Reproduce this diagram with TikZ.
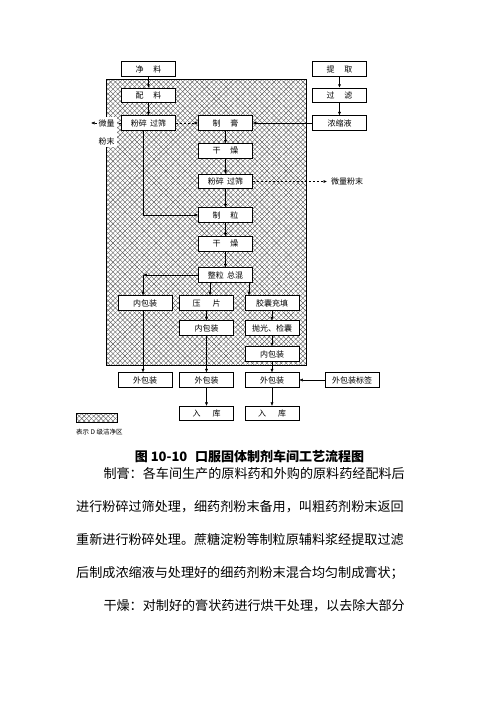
\documentclass[tikz,border=0pt]{standalone}
\usepackage{fontspec}
\setmainfont{Noto Sans CJK SC}
\usetikzlibrary{arrows.meta,patterns.meta,calc}
\begin{document}
\begin{tikzpicture}[x=1pt,y=-1pt,
 bx/.style={draw, fill=white, line width=0.6pt, minimum width=54pt, minimum height=14.5pt, inner sep=0pt, font=\fontsize{8pt}{8pt}\selectfont},
 arr/.style={-{Latex[length=3.5pt,width=3pt]}, line width=0.5pt},
 dsh/.style={arr, dash pattern=on 2.5pt off 1.5pt},
 hatcha/.style={pattern={Lines[angle=45,distance=3.4pt,line width=0.4pt]}, pattern color=black!65},
 hatchb/.style={pattern={Lines[angle=-45,distance=3.4pt,line width=0.4pt]}, pattern color=black!65},
 body/.style={anchor=west, inner sep=0pt, font=\fontsize{13.1pt}{14pt}\selectfont},
 lbl/.style={inner sep=0.8pt, font=\fontsize{8pt}{8pt}\selectfont}
]
\useasboundingbox (0,0) rectangle (500,707);
\fill[white] (0,0) rectangle (500,707);
% clean zone
\path[hatcha] (106,79) rectangle (306,365);
\path[hatchb] (106,79) rectangle (306,365);
\draw[line width=0.6pt] (106,79) rectangle (306,365);
% coordinates for x offsets
\coordinate (xL) at (143,0);
\coordinate (xP) at (210,0);
\coordinate (xJ) at (249,0);
\coordinate (xM) at (206.5,0);
\coordinate (xR) at (272,0);
% column A
\node[bx] (jl) at (148.5,69) {净\hspace{1.2em}料};
\node[bx] (pl) at (148.5,95.3) {配\hspace{1.2em}料};
\node[bx] (fsA) at (148.5,123) {粉碎\hspace{0.4em}过筛};
% column B
\node[bx] (zg) at (225.5,123) {制\hspace{1.2em}膏};
\node[bx] (gz1) at (225.5,151) {干\hspace{1.2em}燥};
\node[bx] (fsB) at (225.5,181.5) {粉碎\hspace{0.4em}过筛};
\node[bx] (zl) at (225.5,215) {制\hspace{1.2em}粒};
\node[bx] (gz2) at (225.5,244) {干\hspace{1.2em}燥};
\node[bx] (zh) at (225.5,275) {整粒\hspace{0.4em}总混};
% column R
\node[bx] (tq) at (339.5,69) {提\hspace{1.2em}取};
\node[bx] (gl) at (339.5,95.3) {过\hspace{1.2em}滤};
\node[bx] (nsy) at (339.5,123) {浓缩液};
% lower rows
\node[bx] (nbL) at (145,303) {内包装};
\node[bx] (yp) at (206.5,303) {压\hspace{1.5em}片};
\node[bx] (jn) at (272,303) {胶囊充填};
\node[bx] (nbM) at (206.5,328) {内包装};
\node[bx] (pg) at (272,328) {抛光、检囊};
\node[bx] (nbR) at (272,354) {内包装};
\node[bx] (wb1) at (145,380) {外包装};
\node[bx] (wb2) at (206.5,380) {外包装};
\node[bx] (wb3) at (272,380) {外包装};
\node[bx] (bq) at (352,380) {外包装标签};
\node[bx] (rk1) at (206.5,413.5) {入\hspace{1.5em}库};
\node[bx] (rk2) at (272,413.5) {入\hspace{1.5em}库};
% connectors
\draw[arr] (jl) -- (pl);
\draw[arr] (pl) -- (fsA);
\draw[arr] (tq) -- (gl);
\draw[arr] (gl) -- (nsy);
\draw[dsh] (fsA) -- (zg);
\draw[arr] (nsy) -- (zg);
\coordinate (wlL) at (91,123);
\draw[dsh] (fsA.west) -- (wlL);
\node[lbl, fill=white, minimum width=20pt, minimum height=12pt] (wlL1) at (106.5,123) {微量};
\node[lbl, fill=white, minimum width=20pt, minimum height=12pt] (wlL2) at (106.5,141) {粉末};
\fill[white] (96.5,128) rectangle (116.5,136);
\draw[arr] (zg) -- (gz1);
\draw[arr] (gz1) -- (fsB);
\draw[arr] (fsB) -- (zl);
\coordinate (wlR) at (327,181.5);
\draw[dsh] (fsB.east) -- (wlR);
\node[lbl, anchor=west] (wlRt) at (330,181.5) {微量粉末};
\draw[arr] (fsA.south -| xL) |- (zl.west);
\draw[arr] (zl) -- (gz2);
\draw[arr] (gz2) -- (zh);
\coordinate (cnr) at (143,275);
\draw[arr] (zh.west) -- (cnr);
\draw[arr] (cnr) -- (nbL.north -| xL);
\draw[arr] (zh.south -| xP) -- (yp.north -| xP);
\draw[arr] (zh.south -| xJ) -- (jn.north -| xJ);
\draw[arr] (yp.south -| xM) -- (nbM.north -| xM);
\draw[arr] (jn.south -| xR) -- (pg.north -| xR);
\draw[arr] (pg.south -| xR) -- (nbR.north -| xR);
\draw[arr] (nbL.south -| xL) -- (wb1.north -| xL);
\draw[arr] (nbM.south -| xM) -- (wb2.north -| xM);
\draw[arr] (nbR.south -| xR) -- (wb3.north -| xR);
\draw[arr] (bq) -- (wb3);
\draw[arr] (wb2.south -| xM) -- (rk1.north -| xM);
\draw[arr] (wb3.south -| xR) -- (rk2.north -| xR);
% legend
\path[hatcha] (76,413) rectangle (117,422);
\path[hatchb] (76,413) rectangle (117,422);
\draw[line width=0.5pt] (76,413) rectangle (117,422);
\node[anchor=west, inner sep=0pt, font=\fontsize{6.5pt}{6.5pt}\selectfont] (lgt) at (76,432) {表示 D 级洁净区};
% caption
\node[inner sep=0pt, font=\bfseries\fontsize{13pt}{13pt}\selectfont] (cap) at (249.5,456) {图 10-10\hspace{0.6em}口服固体制剂车间工艺流程图};
% body text
\node[body] (t1) at (103.3,474) {制膏：各车间生产的原料药和外购的原料药经配料后};
\node[body] (t2) at (76,507) {进行粉碎过筛处理，细药剂粉末备用，叫粗药剂粉末返回};
\node[body] (t3) at (76,540) {重新进行粉碎处理。蔗糖淀粉等制粒原辅料浆经提取过滤};
\node[body] (t4) at (76,573) {后制成浓缩液与处理好的细药剂粉末混合均匀制成膏状；};
\node[body] (t5) at (103.3,606) {干燥：对制好的膏状药进行烘干处理，以去除大部分};
\end{tikzpicture}
\end{document}
